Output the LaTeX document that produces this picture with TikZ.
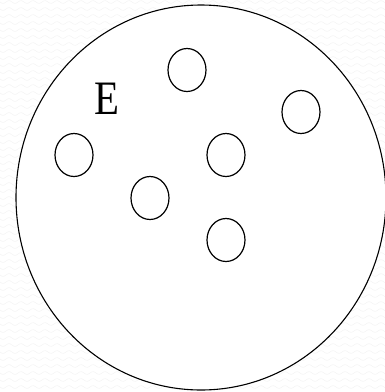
\documentclass[tikz,border=0pt]{standalone}
\usepackage{fontspec}
\setmainfont{Liberation Serif}
\tikzset{
  wave/.style={gray!9,line width=0.6pt},
  outer/.style={line width=1.1pt},
  cell/.style={line width=1.2pt}
}
\begin{document}
\begin{tikzpicture}[x=1pt,y=-1pt]
  \useasboundingbox (0,0) rectangle (385,392);
  % faint background
  \foreach \r in {2,9,...,392}
    \draw[wave] plot[domain=0:385,samples=194] (\x,{\r+1.4*sin(30*\x)});
  \coordinate (O) at (201,197.5);
  \fill[white] (O) ellipse[x radius=185,y radius=192.5];
  \draw[outer] (O) ellipse[x radius=185,y radius=192.5];
  \coordinate (P1) at (187,70); \coordinate (P2) at (301,112); \coordinate (P3) at (226,155);
  \coordinate (P4) at (74,155); \coordinate (P5) at (150,198); \coordinate (P6) at (226,240);
  \foreach \p in {P1,P2,P3,P4,P5,P6}\draw[cell](\p)ellipse[x radius=19,y radius=21.5];
  \node[font=\fontsize{48}{48}\selectfont,xscale=0.85] (E) at (107,99) {E};
\end{tikzpicture}
\end{document}
